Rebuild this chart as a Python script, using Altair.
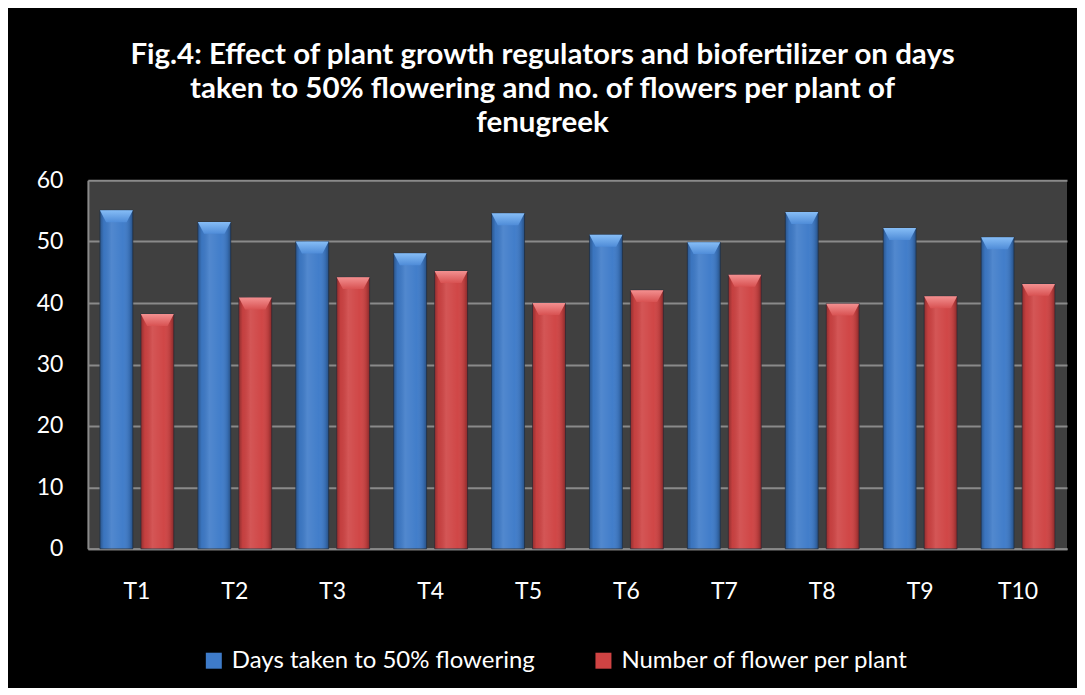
import altair as alt
import pandas as pd

treatments = ["T1", "T2", "T3", "T4", "T5", "T6", "T7", "T8", "T9", "T10"]
days_50_flowering = [55.1, 53.2, 50.0, 48.1, 54.6, 51.1, 49.9, 54.8, 52.2, 50.7]
flowers_per_plant = [38.2, 40.9, 44.2, 45.2, 40.0, 42.1, 44.6, 39.9, 41.1, 43.1]
series = ["Days taken to 50% flowering", "Number of flower per plant"]
colors = ["#3E7BC9", "#CF4343"]
cap_top = ["#86BDF6", "#F39090"]
cap_bottom = ["#4F8CD8", "#D85252"]

rows = []
for t, d, f in zip(treatments, days_50_flowering, flowers_per_plant):
    rows.append({"treatment": t, "series": series[0], "value": d})
    rows.append({"treatment": t, "series": series[1], "value": f})
df = pd.DataFrame(rows)

x_enc = alt.X("treatment:N", sort=treatments,
              scale=alt.Scale(paddingInner=0.245, paddingOuter=0.1225),
              axis=alt.Axis(title=None, labelAngle=0, labelFontSize=23, labelColor="white",
                            labelFont="Lato", labelPadding=32, domainColor="#8a8a8a",
                            domainWidth=2, ticks=False, grid=False))
xoff = alt.XOffset("series:N", sort=series, scale=alt.Scale(paddingInner=0.195, paddingOuter=0))
y_enc = alt.Y("value:Q", scale=alt.Scale(domain=[0, 60], nice=False),
              axis=alt.Axis(title=None, values=[0, 10, 20, 30, 40, 50, 60], labelFontSize=23,
                            labelColor="white", labelFont="Lato", labelPadding=25,
                            domainColor="#8a8a8a", domainWidth=2, ticks=False,
                            gridColor="#8a8a8a", gridWidth=2))

base = alt.Chart(df)

bars = base.mark_bar(stroke="#1f2a3a", strokeWidth=1, strokeOpacity=0.6).encode(
    x=x_enc, xOffset=xoff, y=y_enc,
    color=alt.Color("series:N", sort=series,
                    scale=alt.Scale(domain=series, range=colors),
                    legend=alt.Legend(title=None, orient="none", direction="horizontal",
                                      legendX=114, legendY=469, labelFontSize=24,
                                      labelColor="white", labelFont="Lato",
                                      symbolType="square", symbolSize=256,
                                      symbolStrokeWidth=0, columnPadding=56,
                                      labelLimit=500, labelOffset=6)),
)

shade = base.mark_bar(
    fill=alt.Gradient(gradient="linear", x1=0, x2=1, y1=0, y2=0, stops=[
        alt.GradientStop(offset=0, color="rgba(0,0,0,0.30)"),
        alt.GradientStop(offset=0.12, color="rgba(0,0,0,0.05)"),
        alt.GradientStop(offset=0.35, color="rgba(255,255,255,0.10)"),
        alt.GradientStop(offset=0.7, color="rgba(255,255,255,0.02)"),
        alt.GradientStop(offset=0.9, color="rgba(0,0,0,0.12)"),
        alt.GradientStop(offset=1, color="rgba(0,0,0,0.35)"),
    ])
).encode(x=alt.X("treatment:N", sort=treatments), xOffset=alt.XOffset("series:N", sort=series), y="value:Q")

cap_layers = []
for i, s in enumerate(series):
    cap_layers.append(
        base.transform_filter(alt.datum.series == s).mark_point(
            shape="M-1,0 L1,0 L0.62,0.72 L-0.62,0.72 Z", size=33 * 33, filled=True, opacity=1,
            strokeWidth=0,
            fill=alt.Gradient(gradient="linear", x1=0, x2=0, y1=0, y2=1, stops=[
                alt.GradientStop(offset=0, color=cap_top[i]),
                alt.GradientStop(offset=1, color=cap_bottom[i]),
            ]),
        ).encode(
            x=alt.X("treatment:N", sort=treatments),
            xOffset=alt.XOffset("series:N", sort=series),
            y="value:Q",
        )
    )

chart = alt.layer(bars, shade, *cap_layers).properties(
    width=980, height=369,
    title=alt.Title(
        ["Fig.4: Effect of plant growth regulators and biofertilizer on days",
         "taken to 50% flowering and no. of flowers per plant of",
         "fenugreek"],
        font="Lato", fontSize=29.5, fontWeight="bold", color="white",
        anchor="middle", dx=-35, offset=31, lineHeight=34),
).configure(background="black").configure_view(fill="#404040", stroke=None).properties(
    autosize=alt.AutoSizeParams(type="none"),
    padding={"left": 80, "right": 10, "top": 172, "bottom": 139},
)

chart.save("out.html", embed_options={"renderer": "svg", "actions": False})
